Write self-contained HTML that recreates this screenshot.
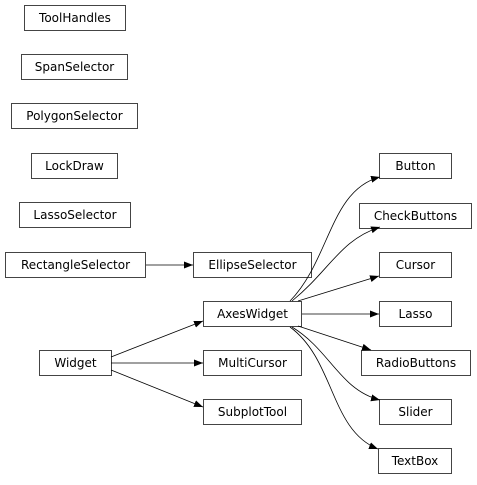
<!DOCTYPE html>
<html><head><style>html,body{margin:0;padding:0;background:#fff}</style></head><body>
<svg width="477" height="480" viewBox="0 0 477 480" xmlns="http://www.w3.org/2000/svg">
<defs><marker id="a" markerWidth="10" markerHeight="8" refX="9" refY="3.5" orient="auto" markerUnits="userSpaceOnUse"><path d="M0,0 L9,3.5 L0,7 z" fill="#000"/></marker></defs>
<g fill="#fff" stroke="#444" stroke-width="1">
<rect x="24.5" y="5.5" width="101" height="25"/>
<rect x="21.5" y="54.5" width="106" height="25"/>
<rect x="11.5" y="103.5" width="126" height="25"/>
<rect x="31.5" y="153.5" width="86" height="25"/>
<rect x="19.5" y="202.5" width="111" height="25"/>
<rect x="5.5" y="252.5" width="140" height="25"/>
<rect x="193.5" y="252.5" width="118" height="25"/>
<rect x="203.5" y="301.5" width="98" height="25"/>
<rect x="39.5" y="350.5" width="72" height="25"/>
<rect x="203.5" y="350.5" width="98" height="25"/>
<rect x="203.5" y="399.5" width="98" height="25"/>
<rect x="379.5" y="153.5" width="72" height="25"/>
<rect x="359.5" y="203.5" width="112" height="25"/>
<rect x="379.5" y="252.5" width="72" height="25"/>
<rect x="379.5" y="301.5" width="72" height="25"/>
<rect x="361.5" y="350.5" width="109" height="25"/>
<rect x="379.5" y="399.5" width="72" height="25"/>
<rect x="378.5" y="448.5" width="73" height="25"/>
</g>
<g fill="none" stroke="#000" stroke-width="0.8" marker-end="url(#a)">
<path d="M146,265 L193,265"/>
<path d="M111,357 L203,321"/>
<path d="M111,363 L203,363"/>
<path d="M111,370 L203,407"/>
<path d="M302,314 L379,314"/>
<path d="M290,301 C330,260 330,190 380,177"/>
<path d="M292,301 C330,270 340,240 380,227"/>
<path d="M298,301 L379,276"/>
<path d="M298,326 L371,350"/>
<path d="M292,327 C330,350 340,390 380,400"/>
<path d="M290,327 C335,360 330,430 378,449"/>
</g>
<g font-family="DejaVu Sans, Liberation Sans, sans-serif" font-size="12" fill="#000" text-anchor="middle">
<text x="75" y="22">ToolHandles</text>
<text x="74.5" y="71">SpanSelector</text>
<text x="74.5" y="120">PolygonSelector</text>
<text x="74.5" y="170">LockDraw</text>
<text x="75" y="219">LassoSelector</text>
<text x="75.5" y="269">RectangleSelector</text>
<text x="252.5" y="269">EllipseSelector</text>
<text x="252.5" y="318">AxesWidget</text>
<text x="75.5" y="367">Widget</text>
<text x="252.5" y="367">MultiCursor</text>
<text x="252.5" y="416">SubplotTool</text>
<text x="415.5" y="170">Button</text>
<text x="415.5" y="220">CheckButtons</text>
<text x="415.5" y="269">Cursor</text>
<text x="415.5" y="318">Lasso</text>
<text x="416" y="367">RadioButtons</text>
<text x="415.5" y="416">Slider</text>
<text x="415" y="465">TextBox</text>
</g>
</svg>
</body></html>
